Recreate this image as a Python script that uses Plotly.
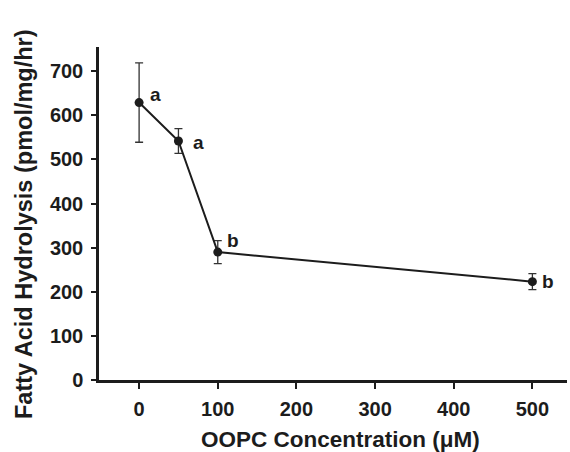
import plotly.graph_objects as go

conc = [0, 50, 100, 500]
hydrolysis = [629, 542, 290, 223]
err = [90, 28, 26, 18]
letters = ["a", "a", "b", "b"]
letter_dx = [16, 20, 15, 16]
letter_dy = [8, -2, 12, 0]

x_ticks = [0, 100, 200, 300, 400, 500]
y_ticks = [0, 100, 200, 300, 400, 500, 600, 700]

ink = "#1c1c1c"
font = "Liberation Sans, Arial, sans-serif"

fig = go.Figure()
fig.add_trace(go.Scatter(
    x=conc, y=hydrolysis, mode="lines+markers",
    line=dict(color=ink, width=2),
    marker=dict(color=ink, size=9),
    error_y=dict(type="data", array=err, visible=True, color="#333333", thickness=1.3, width=4),
    showlegend=False,
))

for xv, yv, t, dx, dy in zip(conc, hydrolysis, letters, letter_dx, letter_dy):
    fig.add_annotation(x=xv, y=yv, text=f"<b>{t}</b>", showarrow=False,
                       xshift=dx, yshift=dy, font=dict(family=font, size=19, color=ink))

fig.add_annotation(xref="paper", yref="paper", x=(340 - 99) / 468, y=(452 - 439 - 72) / 333,
                   text="<b>OOPC Concentration (μM)</b>", showarrow=False,
                   font=dict(family=font, size=22.5, color=ink), xanchor="center", yanchor="middle")
fig.add_annotation(xref="paper", yref="paper", x=(24 - 99) / 468, y=(380 - 224) / 333,
                   text="<b>Fatty Acid Hydrolysis (pmol/mg/hr)</b>", showarrow=False, textangle=-90,
                   font=dict(family=font, size=23.5, color=ink), xanchor="center", yanchor="middle")

fig.update_layout(
    width=570, height=452,
    margin=dict(l=99, r=3, t=47, b=72),
    paper_bgcolor="white", plot_bgcolor="white",
    font=dict(family=font, color=ink),
)
fig.update_xaxes(range=[-51, 544], tickvals=x_ticks, ticktext=[f"<b>{v}</b>" for v in x_ticks],
                 showgrid=False, zeroline=False, showline=True, linecolor=ink, linewidth=2.5,
                 ticks="outside", ticklen=6, tickwidth=1.5, tickcolor=ink,
                 tickfont=dict(family=font, size=20, color=ink), ticklabelstandoff=3)
fig.update_yaxes(range=[0, 755], tickvals=y_ticks, ticktext=[f"<b>{v}</b>" for v in y_ticks],
                 showgrid=False, zeroline=False, showline=True, linecolor=ink, linewidth=2.5,
                 ticks="outside", ticklen=5, tickwidth=1.5, tickcolor=ink,
                 tickfont=dict(family=font, size=20, color=ink), ticklabelstandoff=4)

fig.write_html("out.html")
